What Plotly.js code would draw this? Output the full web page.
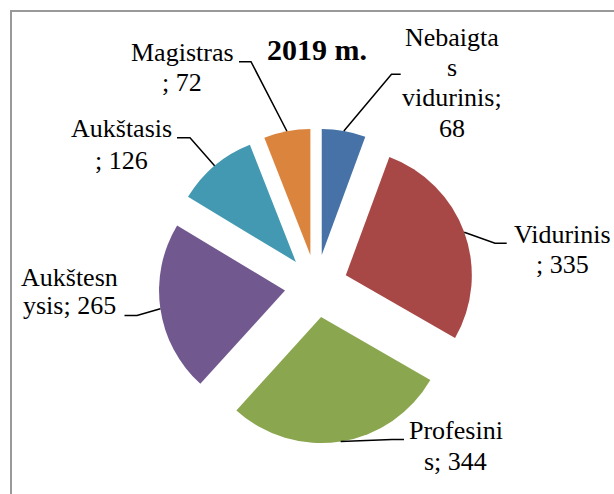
<!DOCTYPE html>
<html><head><meta charset="utf-8">
<script src="https://cdn.plot.ly/plotly-3.0.1.min.js"></script>
<style>html,body{margin:0;padding:0;background:#fff;} #chart{width:614px;height:494px;}</style>
</head><body><div id="chart"></div>
<script>
// ---- data ----
const categories = ['Nebaigtas vidurinis', 'Vidurinis', 'Profesinis', 'Aukštesnysis', 'Aukštasis', 'Magistras'];
const values = [68, 335, 344, 265, 126, 72];
const titleText = '2019 m.';
// character positions where each data label wraps (as in the picture)
const labelBreaks = [[8, 9, 20], [9], [9], [8], [9], [9]];

// ---- styles / layout ----
const colors = ['#4672a8', '#a84846', '#8aa64f', '#71588f', '#4299b1', '#db843d'];
const W = 614, H = 494;
const pieGeom = {cx: 316.2, cy: 286, r: 126, pull: 0.25};
const labelPos = [
  {x: 452,   y: 46,    dy: 30.4, knee: [391.5, 74.3], end: [400.7, 74.3]},
  {x: 562,   y: 243.3, dy: 30,   knee: [495, 243.3],  end: [506.7, 243.3]},
  {x: 455.7, y: 439.3, dy: 31.4, knee: [392, 439.5],  end: [404, 439.5]},
  {x: 69.5,  y: 286,   dy: 28,   knee: [137, 315.5],  end: [124.5, 315.5]},
  {x: 121,   y: 137.5, dy: 31.5, knee: [190, 137.7],  end: [177, 137.7]},
  {x: 182,   y: 61.7,  dy: 30,   knee: [251, 61.7],   end: [239, 61.7]}
];
const FONT = 'Liberation Serif';

const px = x => x / W;
const py = y => 1 - y / H;

function wrap(str, breaks) {
  const out = [];
  let s = 0;
  breaks.forEach(b => { out.push(str.slice(s, b).trim()); s = b; });
  out.push(str.slice(s).trim());
  return out;
}

const half = pieGeom.r * (1 + pieGeom.pull);
const trace = {
  type: 'pie',
  labels: categories,
  values: values,
  sort: false,
  direction: 'clockwise',
  rotation: 0,
  pull: pieGeom.pull,
  marker: {colors: colors, line: {width: 0}},
  textinfo: 'none',
  hoverinfo: 'label+value',
  showlegend: false,
  domain: {
    x: [px(pieGeom.cx - half), px(pieGeom.cx + half)],
    y: [py(pieGeom.cy + half), py(pieGeom.cy - half)]
  }
};

const total = values.reduce((a, b) => a + b, 0);
const annotations = [];
const shapes = [{
  type: 'rect', xref: 'paper', yref: 'paper', layer: 'below',
  x0: px(11), x1: 1.2, y0: py(11), y1: -0.2,
  line: {color: '#999999', width: 2}, fillcolor: 'rgba(0,0,0,0)'
}];

let cum = 0;
values.forEach((v, i) => {
  const mid = (cum + v / 2) / total * 2 * Math.PI;
  cum += v;
  const ax = pieGeom.cx + half * Math.sin(mid);
  const ay = pieGeom.cy - half * Math.cos(mid);
  const p = labelPos[i];
  shapes.push({
    type: 'path', xref: 'paper', yref: 'paper', layer: 'above',
    path: 'M' + px(ax) + ',' + py(ay) + ' L' + px(p.knee[0]) + ',' + py(p.knee[1]) + ' L' + px(p.end[0]) + ',' + py(p.end[1]),
    line: {color: '#000000', width: 1.5}
  });
  const lines = wrap(categories[i] + '; ' + v, labelBreaks[i]);
  lines.forEach((t, k) => {
    annotations.push({
      xref: 'paper', yref: 'paper',
      x: px(p.x), y: py(p.y + k * p.dy - 8.8),
      xanchor: 'center', yanchor: 'middle',
      text: t, showarrow: false,
      font: {family: FONT, size: 26, color: '#000000'}
    });
  });
});

const layout = {
  width: W, height: H,
  margin: {l: 0, r: 0, t: 0, b: 0},
  font: {family: FONT, color: '#000000'},
  paper_bgcolor: '#ffffff',
  plot_bgcolor: '#ffffff',
  title: {
    text: titleText,
    font: {family: FONT, size: 30, weight: 'bold', color: '#000000'},
    x: px(317), xref: 'paper', xanchor: 'center',
    y: py(39), yref: 'container', yanchor: 'top'
  },
  annotations: annotations,
  shapes: shapes
};

Plotly.newPlot('chart', [trace], layout, {displayModeBar: false, staticPlot: true});
</script>
</body></html>
